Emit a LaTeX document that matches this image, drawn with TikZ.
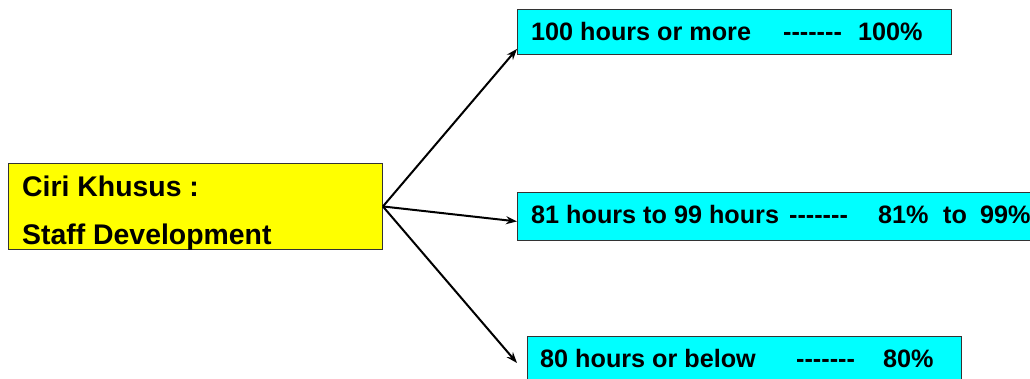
\documentclass[tikz,border=0pt]{standalone}
\usepackage{fontspec}
\setmainfont{Liberation Sans}[Ligatures=TeXOff]
\usetikzlibrary{arrows.meta}
\definecolor{boxyellow}{HTML}{FFFF00}
\definecolor{boxcyan}{HTML}{00FFFF}
\definecolor{edgegray}{HTML}{333333}
\tikzset{
  panel/.style={draw=edgegray, line width=0.9pt, inner sep=0pt, anchor=north west},
  yellowpanel/.style={panel, fill=boxyellow},
  cyanpanel/.style={panel, fill=boxcyan},
  bigtext/.style={inner sep=0pt, anchor=base west, font=\bfseries\fontsize{28.4}{34}\selectfont},
  rowtext/.style={inner sep=0pt, anchor=base west, font=\bfseries\fontsize{25.2}{30}\selectfont},
  link/.style={line width=2pt, -{Stealth[length=11pt,width=8pt]}}
}
\begin{document}
\begin{tikzpicture}[x=1pt,y=-1pt]
\useasboundingbox (0,0) rectangle (1030,379);

% source box
\node[yellowpanel, minimum width=374pt, minimum height=86pt] (ciri) at (8,163) {};
\node[bigtext] (ciri1) at (22,197) {Ciri Khusus :};
\node[bigtext] (ciri2) at (22,245) {Staff Development};

% target boxes
\node[cyanpanel, minimum width=434pt, minimum height=45pt] (top) at (517,9) {};
\node[rowtext] (toptext) at (531,41)
  {\makebox[252pt][l]{100 hours or more}\makebox[75pt][l]{-------}100\%};

\node[cyanpanel, minimum width=530pt, minimum height=48pt] (mid) at (517,192) {};
\node[rowtext] (midtext) at (531,224)
  {\makebox[258pt][l]{81 hours to 99 hours}\makebox[89pt][l]{-------}\makebox[65pt][l]{81\%}\makebox[37pt][l]{to}99\%};

\node[cyanpanel, minimum width=434pt, minimum height=45pt] (bot) at (527,336) {};
\node[rowtext] (bottext) at (540,367)
  {\makebox[256pt][l]{80 hours or below}\makebox[87pt][l]{-------}80\%};

% connectors
\coordinate (tipbot) at (517,363);
\draw[link] (ciri.east) -- ([yshift=6pt]top.south west);
\draw[link] (ciri.east) -- ([yshift=-5pt]mid.west);
\draw[link] (ciri.east) -- (tipbot);
\end{tikzpicture}
\end{document}
